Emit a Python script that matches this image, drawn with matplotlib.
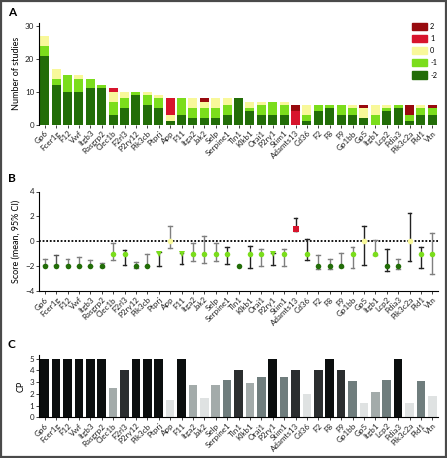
import matplotlib
matplotlib.use("Agg")
import matplotlib.pyplot as plt
from matplotlib.patches import Rectangle, Patch
import numpy as np

plt.rcParams['font.family'] = ['Lato', 'DejaVu Sans']

genes = ["Gp6", "Fcer1g", "F12", "Vwf", "Itgb3", "Rasgrp2", "Clec1b", "F2rl3", "P2ry12",
         "Pik3cb", "Ptprj", "App", "F11", "Itga2", "Jak2", "Selp", "Serpine1", "Tln1",
         "Klkb1", "Orai1", "P2ry1", "Stim1", "Adamts13", "Cd36", "F2", "F8", "F9", "Gp1bb",
         "Gp5", "Itgb1", "Lcp2", "Pdia3", "Pik3c2a", "Pld1", "Vtn"]

# Panel A: number of studies per score
n_m2 = [21, 12, 10, 10, 11, 11, 3, 5, 9, 6, 5, 1, 3, 2, 2, 2, 3, 8, 4, 3, 3, 3, 0, 1, 4, 5, 3, 3, 2, 0, 4, 5, 1, 3, 3]
n_m1 = [3, 2, 5, 4, 3, 1, 4, 3, 1, 3, 3, 0, 5, 3, 3, 3, 3, 0, 1, 3, 4, 3, 0, 2, 2, 1, 3, 2, 0, 3, 1, 1, 2, 2, 2]
n_0 = [3, 3, 0, 1, 0, 0, 3, 2, 0, 1, 1, 2, 0, 3, 2, 3, 2, 0, 2, 1, 0, 1, 0, 3, 0, 0, 0, 1, 3, 3, 1, 0, 0, 1, 0]
n_p1 = [0, 0, 0, 0, 0, 0, 1, 0, 0, 0, 0, 5, 0, 0, 0, 0, 0, 0, 0, 0, 0, 0, 4, 0, 0, 0, 0, 0, 0, 0, 0, 0, 0, 0, 0]
n_p2 = [0, 0, 0, 0, 0, 0, 0, 0, 0, 0, 0, 0, 0, 0, 1, 0, 0, 0, 0, 0, 0, 0, 2, 0, 0, 0, 0, 0, 1, 0, 0, 0, 3, 0, 1]

# Panel B: plotted score (rounded mean) and 95% CI limits
score = [-2, -2, -2, -2, -2, -2, -1, -1, -2, -2, -1, 0, -1, -1, -1, -1, -1, -2, -1, -1, -1, -1, 1, -1,
         -2, -2, -2, -1, 0, -1, -2, -2, 0, -1, -1]
ci_lo = [-1.94, -1.94, -1.94, -1.95, -2.03, -2.10, -1.48, -1.89, -2.13, -2.01, -2.00, -0.51, -1.81, -1.57,
         -1.71, -1.57, -1.82, -2.00, -2.17, -1.98, -1.92, -1.98, 0.79, -1.52, -2.21, -2.26, -2.07, -2.19,
         -1.91, -1.07, -2.38, -2.26, -1.62, -2.19, -2.63]
ci_hi = [-1.40, -1.12, -1.40, -1.25, -1.54, -1.73, -0.16, -0.71, -1.67, -0.99, -0.89, 1.26, -0.94, -0.18,
         0.46, -0.18, -0.43, -2.00, -0.41, -0.59, -0.93, -0.59, 1.88, 0.19, -1.12, -1.40, -0.93, -0.48,
         1.25, 0.07, -0.62, -1.40, 2.29, -0.48, 0.63]

# Panel C: CP values
cp = [5, 5, 5, 5, 5, 5, 2.46, 4.05, 5, 5, 5, 1.47, 5, 2.72, 1.67, 2.72, 3.17, 4.0, 2.95, 3.4, 5, 3.4,
      4.0, 2.0, 4.0, 5, 4.0, 3.05, 1.25, 2.18, 3.2, 5, 1.22, 3.05, 1.78]

score_colors = {-2: "#226d08", -1: "#7bdd1c", 0: "#f8f89a", 1: "#d7142c", 2: "#980a0e"}

W, H = 447, 458
fig = plt.figure(figsize=(W / 100, H / 100), dpi=100)
fig.patches.append(Rectangle((0.002, 0.002), 0.996, 0.996, transform=fig.transFigure,
                             fill=False, edgecolor="#4a4a4a", lw=1.6))

def frac(l, b, r, t):
    return [l / W, 1 - b / H, (r - l) / W, (b - t) / H]

x = np.arange(len(genes))
fs = 5.8

def style_axis(ax):
    ax.spines['top'].set_visible(False)
    ax.spines['right'].set_visible(False)
    ax.spines['left'].set_linewidth(0.8)
    ax.spines['bottom'].set_linewidth(0.8)
    ax.tick_params(axis='both', labelsize=fs, length=2, width=0.6, pad=1.5, colors='#222222')
    ax.set_xlim(-0.5, len(genes) - 0.5)
    ax.set_xticks(x)
    ax.set_xticklabels(genes, rotation=45, ha='right', rotation_mode='anchor')

# Panel A
axA = fig.add_axes(frac(39, 124.5, 438, 22.7))
bottom = np.zeros(len(genes))
for vals, key in [(n_m2, -2), (n_m1, -1), (n_0, 0), (n_p1, 1), (n_p2, 2)]:
    v = np.array(vals, dtype=float)
    axA.bar(x, v, bottom=bottom, width=0.8, color=score_colors[key], linewidth=0)
    bottom += v
style_axis(axA)
axA.set_ylim(0, 31)
axA.set_yticks([0, 10, 20, 30])
axA.spines['bottom'].set_visible(False)
axA.set_ylabel("Number of studies", fontsize=6.5, labelpad=3)
handles = [Patch(color=score_colors[k], label=str(k)) for k in [2, 1, 0, -1, -2]]
axA.legend(handles=handles, loc='upper right', bbox_to_anchor=(1.005, 1.03), frameon=False,
           fontsize=5.3, handlelength=2.0, handleheight=1.1, labelspacing=0.7, handletextpad=0.4,
           borderaxespad=0)

# Panel B
axB = fig.add_axes(frac(39, 291, 438, 191.5))
axB.axhline(0, color='black', ls=(0, (1, 1)), lw=1.3, zorder=1)
err_cols = ["#7f7f7f", "#555555", "#7f7f7f", "#7f7f7f", "#7f7f7f", "#7f7f7f", "#7f7f7f", "#222222",
            "#7f7f7f", "#7f7f7f", "#222222", "#7f7f7f", "#222222", "#7f7f7f", "#7f7f7f", "#7f7f7f",
            "#222222", "#222222", "#222222", "#7f7f7f", "#222222", "#7f7f7f", "#222222", "#222222",
            "#7f7f7f", "#7f7f7f", "#7f7f7f", "#7f7f7f", "#222222", "#7f7f7f", "#222222", "#7f7f7f",
            "#222222", "#222222", "#7f7f7f"]
markers = ['o'] * len(genes)
for i, g in enumerate(genes):
    if g in ("Ptprj", "F11", "P2ry1"):
        markers[i] = 'v'
    if g == "Adamts13":
        markers[i] = 's'
for i in range(len(genes)):
    lo, hi = ci_lo[i], ci_hi[i]
    if hi - lo > 0.01:
        axB.plot([x[i], x[i]], [lo, hi], color=err_cols[i], lw=1.0, zorder=2)
        for yv in (lo, hi):
            axB.plot([x[i] - 0.17, x[i] + 0.17], [yv, yv], color=err_cols[i], lw=1.0, zorder=2)
    axB.plot(x[i], score[i], marker=markers[i], ms=4.0, color=score_colors[score[i]],
             markeredgewidth=0, zorder=3, ls='none')
style_axis(axB)
axB.set_ylim(-4, 4)
axB.set_yticks([-4, -2, 0, 2, 4])
axB.set_ylabel("Score (mean, 95% CI)", fontsize=6.5, labelpad=3)

# Panel C
def cp_color(v):
    if v >= 4.5:
        return "#0b0e0e"
    if v >= 3.5:
        return "#2b2e2f"
    if v >= 3.0:
        return "#6f7d7d"
    if v >= 2.1:
        return "#a3abaa"
    return "#dfe2e2"

axC = fig.add_axes(frac(39, 417.3, 438, 355))
axC.bar(x, cp, width=0.75, color=[cp_color(v) for v in cp], linewidth=0)
style_axis(axC)
axC.set_ylim(0, 5.3)
axC.set_yticks([0, 1, 2, 3, 4, 5])
axC.set_ylabel("CP", fontsize=6.5, labelpad=3)

for lab, yy in [("A", 13), ("B", 178), ("C", 345)]:
    fig.text(8 / W, 1 - yy / H, lab, fontsize=8.5, fontweight='bold', ha='left', va='center')

fig.savefig("out.png", dpi=100)
